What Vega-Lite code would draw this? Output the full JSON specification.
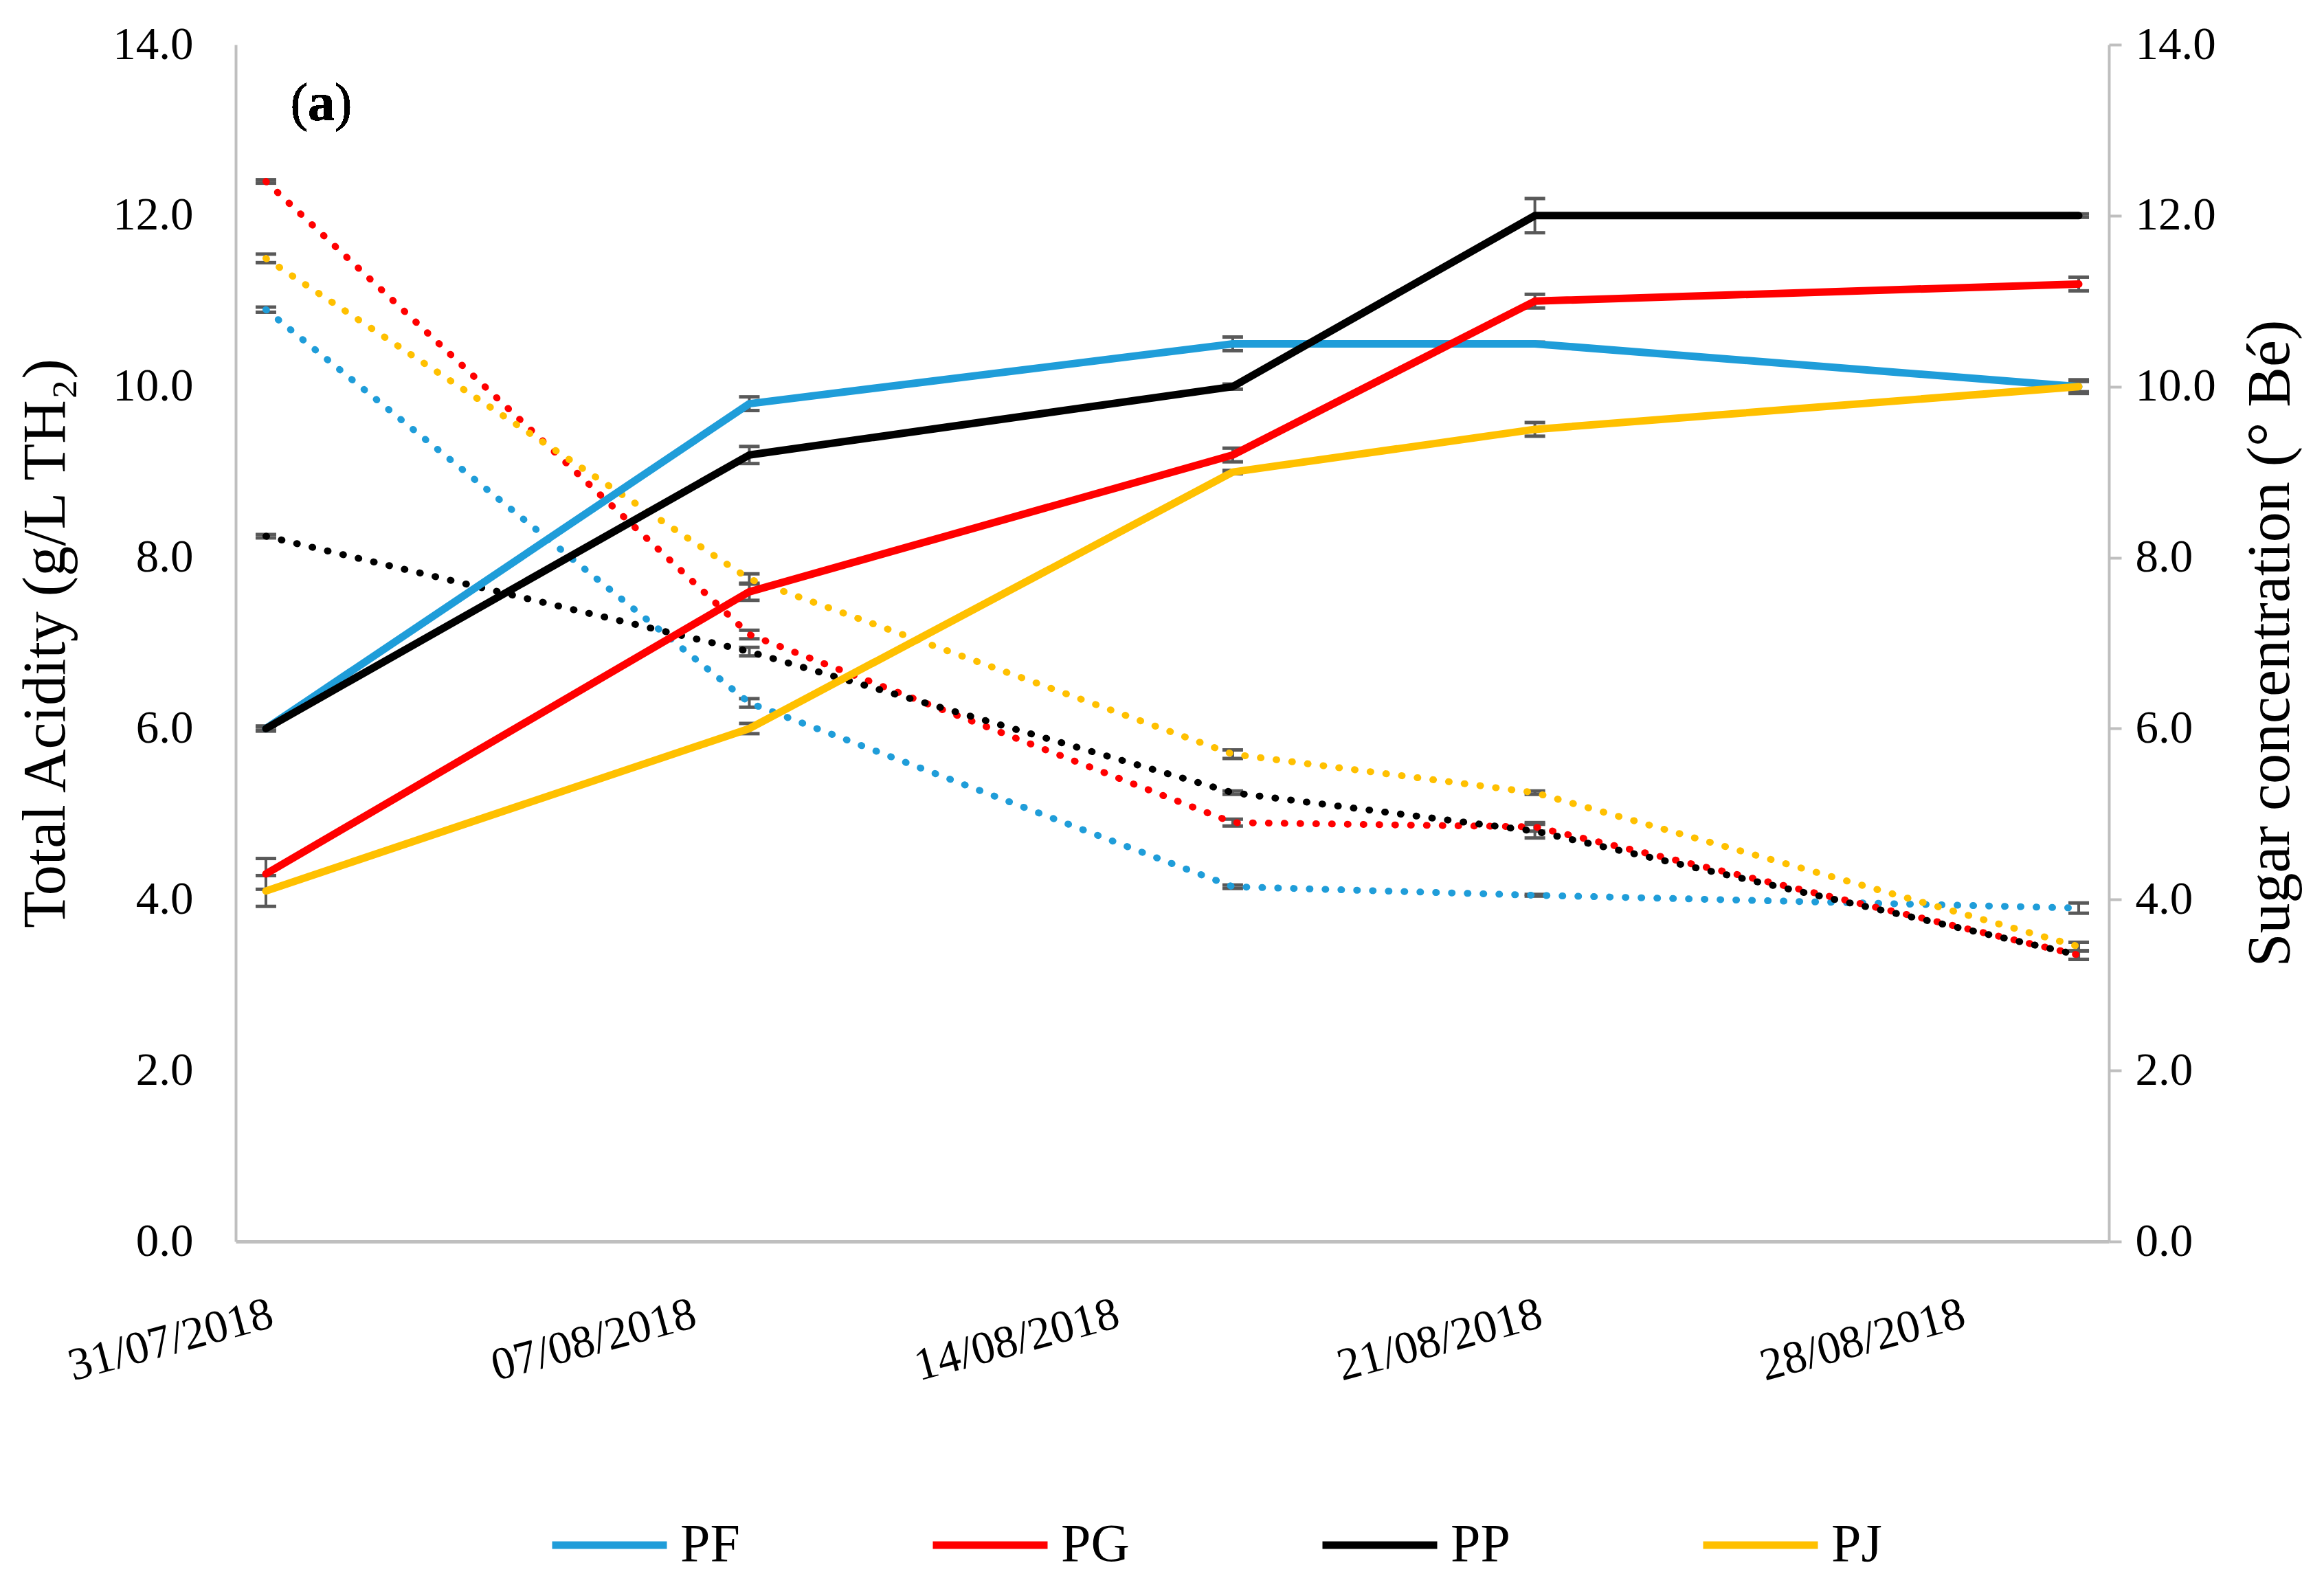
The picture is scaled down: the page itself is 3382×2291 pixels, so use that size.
{
  "$schema": "https://vega.github.io/schema/vega-lite/v6.json",
  "autosize": {"type": "none"},
  "width": 2726,
  "height": 1742,
  "padding": {"left": 343, "top": 65, "right": 313, "bottom": 484},
  "background": "white",
  "config": {
    "view": {"stroke": null},
    "font": "Liberation Serif",
    "axis": {"grid": false, "labelFont": "Liberation Serif", "titleFont": "Liberation Serif", "labelColor": "#000000", "titleColor": "#000000", "titleFontWeight": "normal", "domainColor": "#BFBFBF", "domainWidth": 4, "labelFontSize": 67, "titleFontSize": 88, "labelLimit": 0}
  },
  "data": {"values": [
    {"s": "PF", "kind": "sugar", "date": "2018-07-31T12:00:00", "v": 6.0, "lo": 5.97, "hi": 6.03},
    {"s": "PF", "kind": "sugar", "date": "2018-08-08T12:00:00", "v": 9.8, "lo": 9.72, "hi": 9.88},
    {"s": "PF", "kind": "sugar", "date": "2018-08-16T12:00:00", "v": 10.5, "lo": 10.42, "hi": 10.58},
    {"s": "PF", "kind": "sugar", "date": "2018-08-21T12:00:00", "v": 10.5, "lo": 10.48, "hi": 10.52},
    {"s": "PF", "kind": "sugar", "date": "2018-08-30T12:00:00", "v": 10.0, "lo": 9.94, "hi": 10.06},
    {"s": "PG", "kind": "sugar", "date": "2018-07-31T12:00:00", "v": 4.3, "lo": 4.12, "hi": 4.48},
    {"s": "PG", "kind": "sugar", "date": "2018-08-08T12:00:00", "v": 7.6, "lo": 7.5, "hi": 7.7},
    {"s": "PG", "kind": "sugar", "date": "2018-08-16T12:00:00", "v": 9.2, "lo": 9.12, "hi": 9.28},
    {"s": "PG", "kind": "sugar", "date": "2018-08-21T12:00:00", "v": 11.0, "lo": 10.92, "hi": 11.08},
    {"s": "PG", "kind": "sugar", "date": "2018-08-30T12:00:00", "v": 11.2, "lo": 11.12, "hi": 11.28},
    {"s": "PP", "kind": "sugar", "date": "2018-07-31T12:00:00", "v": 6.0, "lo": 5.98, "hi": 6.02},
    {"s": "PP", "kind": "sugar", "date": "2018-08-08T12:00:00", "v": 9.2, "lo": 9.1, "hi": 9.3},
    {"s": "PP", "kind": "sugar", "date": "2018-08-16T12:00:00", "v": 10.0, "lo": 9.97, "hi": 10.03},
    {"s": "PP", "kind": "sugar", "date": "2018-08-21T12:00:00", "v": 12.0, "lo": 11.8, "hi": 12.2},
    {"s": "PP", "kind": "sugar", "date": "2018-08-30T12:00:00", "v": 12.0, "lo": 11.98, "hi": 12.02},
    {"s": "PJ", "kind": "sugar", "date": "2018-07-31T12:00:00", "v": 4.1, "lo": 3.92, "hi": 4.28},
    {"s": "PJ", "kind": "sugar", "date": "2018-08-08T12:00:00", "v": 6.0, "lo": 5.94, "hi": 6.06},
    {"s": "PJ", "kind": "sugar", "date": "2018-08-16T12:00:00", "v": 9.0, "lo": 8.98, "hi": 9.02},
    {"s": "PJ", "kind": "sugar", "date": "2018-08-21T12:00:00", "v": 9.5, "lo": 9.42, "hi": 9.58},
    {"s": "PJ", "kind": "sugar", "date": "2018-08-30T12:00:00", "v": 10.0, "lo": 9.92, "hi": 10.08},
    {"s": "PF", "kind": "acid", "date": "2018-07-31T12:00:00", "v": 10.9, "lo": 10.87, "hi": 10.93},
    {"s": "PF", "kind": "acid", "date": "2018-08-08T12:00:00", "v": 6.3, "lo": 6.25, "hi": 6.35},
    {"s": "PF", "kind": "acid", "date": "2018-08-16T12:00:00", "v": 4.15, "lo": 4.13, "hi": 4.17},
    {"s": "PF", "kind": "acid", "date": "2018-08-21T12:00:00", "v": 4.05, "lo": 4.04, "hi": 4.06},
    {"s": "PF", "kind": "acid", "date": "2018-08-30T12:00:00", "v": 3.9, "lo": 3.84, "hi": 3.96},
    {"s": "PG", "kind": "acid", "date": "2018-07-31T12:00:00", "v": 12.4, "lo": 12.38, "hi": 12.42},
    {"s": "PG", "kind": "acid", "date": "2018-08-08T12:00:00", "v": 7.1, "lo": 7.05, "hi": 7.15},
    {"s": "PG", "kind": "acid", "date": "2018-08-16T12:00:00", "v": 4.9, "lo": 4.86, "hi": 4.94},
    {"s": "PG", "kind": "acid", "date": "2018-08-21T12:00:00", "v": 4.85, "lo": 4.8, "hi": 4.9},
    {"s": "PG", "kind": "acid", "date": "2018-08-30T12:00:00", "v": 3.35, "lo": 3.3, "hi": 3.4},
    {"s": "PP", "kind": "acid", "date": "2018-07-31T12:00:00", "v": 8.25, "lo": 8.23, "hi": 8.27},
    {"s": "PP", "kind": "acid", "date": "2018-08-08T12:00:00", "v": 6.9, "lo": 6.85, "hi": 6.95},
    {"s": "PP", "kind": "acid", "date": "2018-08-16T12:00:00", "v": 5.25, "lo": 5.23, "hi": 5.27},
    {"s": "PP", "kind": "acid", "date": "2018-08-21T12:00:00", "v": 4.8, "lo": 4.72, "hi": 4.88},
    {"s": "PP", "kind": "acid", "date": "2018-08-30T12:00:00", "v": 3.35, "lo": 3.3, "hi": 3.4},
    {"s": "PJ", "kind": "acid", "date": "2018-07-31T12:00:00", "v": 11.5, "lo": 11.45, "hi": 11.55},
    {"s": "PJ", "kind": "acid", "date": "2018-08-08T12:00:00", "v": 7.75, "lo": 7.69, "hi": 7.81},
    {"s": "PJ", "kind": "acid", "date": "2018-08-16T12:00:00", "v": 5.7, "lo": 5.65, "hi": 5.75},
    {"s": "PJ", "kind": "acid", "date": "2018-08-21T12:00:00", "v": 5.25, "lo": 5.23, "hi": 5.27},
    {"s": "PJ", "kind": "acid", "date": "2018-08-30T12:00:00", "v": 3.45, "lo": 3.4, "hi": 3.5}
  ]},
  "encoding": {
    "x": {
      "field": "date", "type": "temporal",
      "scale": {"domain": [{"year": 2018, "month": 7, "date": 31}, {"year": 2018, "month": 8, "date": 31}]},
      "axis": {
        "title": null, "format": "%d/%m/%Y", "ticks": false, "tickSize": 0,
        "values": [
          {"year": 2018, "month": 7, "date": 31, "hours": 12},
          {"year": 2018, "month": 8, "date": 7, "hours": 12},
          {"year": 2018, "month": 8, "date": 14, "hours": 12},
          {"year": 2018, "month": 8, "date": 21, "hours": 12},
          {"year": 2018, "month": 8, "date": 28, "hours": 12}
        ],
        "labelAngle": -15, "labelAlign": "right", "labelBaseline": "top", "labelPadding": 72, "labelLimit": 0,
        "labelOverlap": false, "labelBound": false, "labelFlush": false, "domainWidth": 5
      }
    }
  },
  "layer": [
    {"mark": {"type": "rule", "color": "#595959", "strokeWidth": 4},
      "encoding": {"y": {"field": "lo", "type": "quantitative", "scale": {"domain": [0, 14], "nice": false}, "axis": null}, "y2": {"field": "hi"}}},
    {"mark": {"type": "tick", "orient": "horizontal", "color": "#595959", "size": 30, "thickness": 5, "opacity": 1},
      "encoding": {"y": {"field": "lo", "type": "quantitative", "scale": {"domain": [0, 14], "nice": false}, "axis": null}}},
    {"mark": {"type": "tick", "orient": "horizontal", "color": "#595959", "size": 30, "thickness": 5, "opacity": 1},
      "encoding": {"y": {"field": "hi", "type": "quantitative", "scale": {"domain": [0, 14], "nice": false}, "axis": null}}},
    {"transform": [{"filter": "datum.kind === 'acid'"}],
      "mark": {"type": "line", "strokeWidth": 10, "strokeDash": [1, 22], "strokeCap": "round"},
      "encoding": {
        "y": {"field": "v", "type": "quantitative", "scale": {"domain": [0, 14], "nice": false},
          "axis": {"orient": "left", "title": "Total Acidity (g/L TH₂)", "values": [0, 2, 4, 6, 8, 10, 12, 14], "format": ".1f", "ticks": false, "tickSize": 0, "labelPadding": 62, "titlePadding": 52}},
        "stroke": {"field": "s", "type": "nominal", "scale": {"domain": ["PJ", "PP", "PG", "PF"], "range": ["#FFC000", "#000000", "#FF0000", "#1F9DD9"]}, "legend": null}}},
    {"transform": [{"filter": "datum.kind === 'sugar'"}],
      "mark": {"type": "line", "strokeWidth": 11, "strokeCap": "round", "strokeJoin": "round"},
      "encoding": {
        "y": {"field": "v", "type": "quantitative", "scale": {"domain": [0, 14], "nice": false},
          "axis": {"orient": "right", "title": "Sugar concentration (° Bé)", "titleAngle": 270, "titleBaseline": "top", "values": [0, 2, 4, 6, 8, 10, 12, 14], "format": ".1f", "ticks": true, "tickColor": "#BFBFBF", "tickWidth": 4, "tickSize": 18, "labelPadding": 20, "titlePadding": 36}},
        "color": {"field": "s", "type": "nominal", "scale": {"domain": ["PF", "PG", "PP", "PJ"], "range": ["#1F9DD9", "#FF0000", "#000000", "#FFC000"]},
          "legend": {"orient": "none", "legendX": 455, "legendY": 2095, "direction": "horizontal", "columns": 4, "title": null, "labelFontSize": 78, "symbolSize": 27889, "symbolStrokeWidth": 11, "symbolType": "stroke", "labelOffset": 14, "columnPadding": 258, "labelFont": "Liberation Serif", "labelColor": "#000000", "padding": 0}}}},
    {"mark": {"type": "text", "text": "(", "fontSize": 78, "align": "right", "baseline": "middle", "dx": -19, "color": "#000000"},
      "encoding": {"x": {"datum": {"year": 2018, "month": 8, "date": 1, "hours": 10}, "type": "temporal"}, "y": {"datum": 13.3, "type": "quantitative", "scale": {"domain": [0, 14], "nice": false}, "axis": null}}},
    {"mark": {"type": "text", "text": "a", "fontSize": 78, "fontWeight": "bold", "align": "center", "baseline": "middle", "color": "#000000"},
      "encoding": {"x": {"datum": {"year": 2018, "month": 8, "date": 1, "hours": 10}, "type": "temporal"}, "y": {"datum": 13.3, "type": "quantitative", "scale": {"domain": [0, 14], "nice": false}, "axis": null}}},
    {"mark": {"type": "text", "text": ")", "fontSize": 78, "align": "left", "baseline": "middle", "dx": 19, "color": "#000000"},
      "encoding": {"x": {"datum": {"year": 2018, "month": 8, "date": 1, "hours": 10}, "type": "temporal"}, "y": {"datum": 13.3, "type": "quantitative", "scale": {"domain": [0, 14], "nice": false}, "axis": null}}}
  ],
  "resolve": {"scale": {"y": "independent"}}
}
